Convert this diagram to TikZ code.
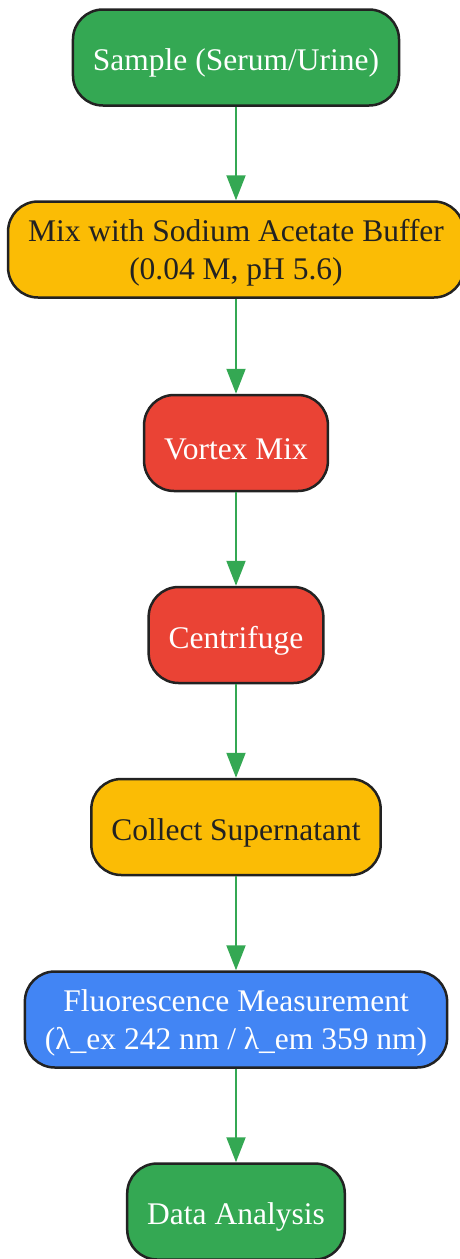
\documentclass[tikz,border=0pt]{standalone}
\usepackage{fontspec}
\setmainfont{Liberation Serif}
\usepackage{tikz}
\usetikzlibrary{arrows.meta}

\definecolor{gGreen}{HTML}{34A853}
\definecolor{gYellow}{HTML}{FBBC05}
\definecolor{gRed}{HTML}{EA4335}
\definecolor{gBlue}{HTML}{4285F4}
\definecolor{gDark}{HTML}{222222}

\tikzset{
  stepbox/.style={draw=gDark, line width=2.5pt, rounded corners=30pt,
    minimum height=96pt, inner xsep=20pt, align=center,
    font=\fontsize{31.5}{38}\selectfont,
    execute at begin node={\rule{0pt}{33pt}}},
  twoline/.style={text depth=0pt},
  greenbox/.style={stepbox, fill=gGreen, text=white},
  yellowbox/.style={stepbox, fill=gYellow, text=gDark},
  redbox/.style={stepbox, fill=gRed, text=white},
  bluebox/.style={stepbox, fill=gBlue, text=white},
  flow/.style={draw=gGreen, line width=2pt, -{Triangle[length=25pt,width=19pt]}}
}

\begin{document}
\begin{tikzpicture}[x=1pt,y=1pt]
\useasboundingbox (0,0) rectangle (460,-1259);

%% Steps
\node[greenbox]  (sample)  at (236,-57.5)  {Sample (Serum/Urine)};
\node[yellowbox,twoline] (buffer) at (236,-249.5) {Mix with Sodium Acetate Buffer\\(0.04 M, pH 5.6)};
\node[redbox]    (vortex)  at (236,-443)   {Vortex Mix};
\node[redbox]    (centri)  at (236,-635)   {Centrifuge};
\node[yellowbox] (collect) at (236,-827)   {Collect Supernatant};
\node[bluebox,twoline] (fluor) at (236,-1019.5) {Fluorescence Measurement\\(λ\_ex 242 nm / λ\_em 359 nm)};
\node[greenbox]  (data)    at (236,-1211.5) {Data Analysis};

%% Arrows
\draw[flow] (sample) -- (buffer);
\draw[flow] (buffer) -- (vortex);
\draw[flow] (vortex) -- (centri);
\draw[flow] (centri) -- (collect);
\draw[flow] (collect) -- (fluor);
\draw[flow] (fluor) -- (data);
\end{tikzpicture}
\end{document}
